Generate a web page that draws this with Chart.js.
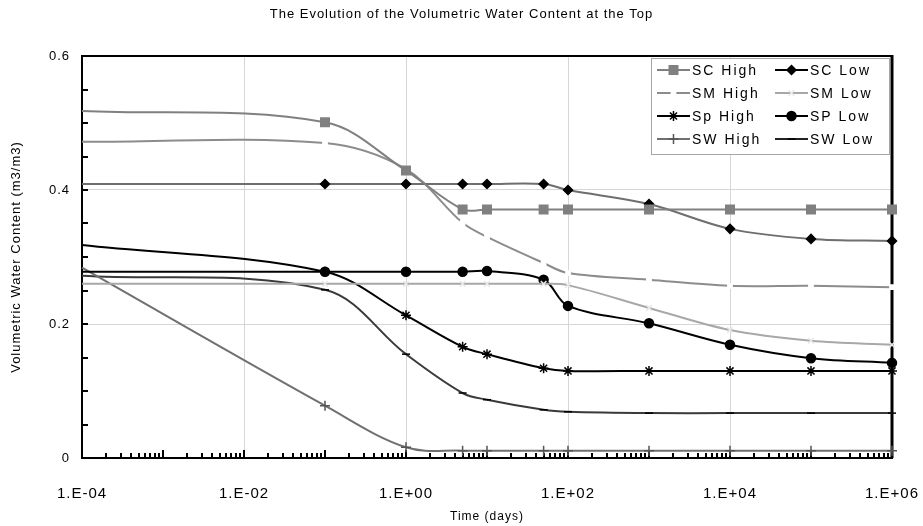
<!DOCTYPE html>
<html>
<head>
<meta charset="utf-8">
<script src="https://cdn.jsdelivr.net/npm/chart.js@4/dist/chart.umd.min.js"></script>
<style>
  html, body { margin: 0; padding: 0; background: #fff; }
  #wrap { width: 923px; height: 526px; }
</style>
</head>
<body>
<div id="wrap"><canvas id="waterChart" width="923" height="526"></canvas></div>
<script>
// time steps (days) and volumetric water content at the top for each soil
const days = [1e-4, 0.1, 1, 5, 10, 50, 100, 1000, 1e4, 1e5, 1e6];
const xTickDecades = [1e-4, 1e-2, 1, 1e2, 1e4, 1e6];
const yTicks = [0, 0.2, 0.4, 0.6];

const scHigh = [0.518, 0.501, 0.429, 0.371, 0.371, 0.371, 0.371, 0.371, 0.371, 0.371, 0.371];
const scLow  = [0.409, 0.409, 0.409, 0.409, 0.409, 0.409, 0.400, 0.379, 0.342, 0.327, 0.324];
const smHigh = [0.472, 0.470, 0.431, 0.351, 0.330, 0.291, 0.276, 0.266, 0.257, 0.257, 0.255];
const smLow  = [0.260, 0.260, 0.260, 0.260, 0.260, 0.260, 0.258, 0.224, 0.191, 0.175, 0.169];
const spHigh = [0.318, 0.278, 0.213, 0.166, 0.155, 0.134, 0.130, 0.130, 0.130, 0.130, 0.130];
const spLow  = [0.278, 0.278, 0.278, 0.278, 0.279, 0.266, 0.227, 0.201, 0.169, 0.149, 0.142];
const swHigh = [0.284, 0.078, 0.016, 0.011, 0.011, 0.011, 0.011, 0.011, 0.011, 0.011, 0.011];
const swLow  = [0.272, 0.251, 0.155, 0.097, 0.087, 0.072, 0.069, 0.067, 0.067, 0.067, 0.067];

const seriesNames = ['SC High', 'SC Low', 'SM High', 'SM Low', 'Sp High', 'SP Low', 'SW High', 'SW Low'];
const seriesValues = [scHigh, scLow, smHigh, smLow, spHigh, spLow, swHigh, swLow];

// line + marker look for each series, same order as the names
const seriesStyles = [
  { line: '#808080', key: '#808080', style: 'rect',     r: 6,   fill: '#808080', edge: '#808080' },
  { line: '#6e6e6e', key: '#000',    style: 'rectRot',  r: 4.5, fill: '#000',    edge: '#000' },
  { line: '#8c8c8c', key: '#8c8c8c', style: 'rect',     r: 3,   fill: '#fff',    edge: '#fff' },
  { line: '#a8a8a8', key: '#a8a8a8', style: 'crossRot', r: 4,   fill: '#e8e8e8', edge: '#e8e8e8' },
  { line: '#000',    key: '#000',    style: 'star',     r: 5,   fill: '#000',    edge: '#000' },
  { line: '#000',    key: '#000',    style: 'circle',   r: 4.5, fill: '#000',    edge: '#000' },
  { line: '#707070', key: '#707070', style: 'cross',    r: 5,   fill: '#555',    edge: '#555' },
  { line: '#3a3a3a', key: '#222',    style: 'line',     r: 4,   fill: '#000',    edge: '#000' }
];

const datasets = seriesNames.map((name, s) => {
  const st = seriesStyles[s];
  return {
    label: name,
    data: days.map((d, i) => ({ x: d, y: seriesValues[s][i] })),
    borderColor: st.line,
    borderWidth: 2,
    backgroundColor: st.fill,
    pointStyle: st.style,
    pointRadius: ctx => ctx.dataIndex === 0 ? 0 : st.r,
    pointBackgroundColor: st.fill,
    pointBorderColor: st.edge,
    pointBorderWidth: 1.5,
    tension: 0.35,
    clip: false
  };
});

Chart.defaults.font.family = '"Liberation Sans", Arial, sans-serif';
Chart.defaults.color = '#000';

// spaced-out lettering used across the whole chart
const spacing = {
  id: 'spacing',
  beforeLayout(chart) { chart.ctx.letterSpacing = '1px'; },
  beforeDraw(chart) { chart.ctx.letterSpacing = '1px'; }
};

// plot frame and the small inward tick marks on both axes
const frameTicks = {
  id: 'frameTicks',
  beforeDatasetsDraw(chart) {
    const { ctx, chartArea: a, scales } = chart;
    ctx.save();
    ctx.strokeStyle = '#000';
    ctx.lineWidth = 2;
    ctx.beginPath();
    ctx.moveTo(a.left, a.top);
    ctx.lineTo(a.right, a.top);
    ctx.stroke();
    ctx.lineWidth = 3;
    ctx.beginPath();
    ctx.moveTo(a.right, a.top - 1);
    ctx.lineTo(a.right, a.bottom);
    ctx.stroke();

    ctx.lineWidth = 2;
    ctx.beginPath();
    for (let v = 0.05; v < 0.6; v += 0.05) {
      const y = Math.round(scales.y.getPixelForValue(v));
      ctx.moveTo(a.left, y);
      ctx.lineTo(a.left + 6, y);
    }
    for (let n = -4; n < 6; n++) {
      for (let k = 1; k <= 9; k++) {
        if (n === -4 && k === 1) continue;
        const x = Math.round(scales.x.getPixelForValue(k * Math.pow(10, n)));
        ctx.moveTo(x, a.bottom);
        ctx.lineTo(x, a.bottom - (k === 1 ? 8 : 5));
      }
    }
    ctx.stroke();
    ctx.restore();
  }
};

// boxed two-column legend in the upper right corner of the plot
const boxLegend = {
  id: 'boxLegend',
  afterDatasetsDraw(chart) {
    const ctx = chart.ctx;
    const box = { left: 651, top: 58, right: 889, bottom: 154 };
    const rowY = [70, 93, 116, 139];
    const colX = [657, 775];
    ctx.save();
    ctx.fillStyle = '#fff';
    ctx.fillRect(box.left, box.top, box.right - box.left, box.bottom - box.top);
    ctx.strokeStyle = '#a6a6a6';
    ctx.lineWidth = 1;
    ctx.strokeRect(box.left + 0.5, box.top + 0.5, box.right - box.left, box.bottom - box.top);

    chart.data.datasets.forEach((ds, i) => {
      const x0 = colX[i % 2];
      const y = rowY[Math.floor(i / 2)];
      ctx.strokeStyle = seriesStyles[i].key;
      ctx.lineWidth = ds.borderWidth;
      ctx.beginPath();
      ctx.moveTo(x0, y);
      ctx.lineTo(x0 + 33, y);
      ctx.stroke();

      ctx.fillStyle = ds.pointBackgroundColor;
      ctx.strokeStyle = ds.pointBorderColor;
      ctx.lineWidth = ds.pointBorderWidth;
      Chart.helpers.drawPoint(ctx, {
        pointStyle: ds.pointStyle,
        radius: seriesStyles[i].r,
        borderWidth: ds.pointBorderWidth,
        rotation: 0
      }, x0 + 16.5, y);

      ctx.fillStyle = '#000';
      ctx.font = '14px "Liberation Sans", Arial, sans-serif';
      ctx.letterSpacing = '2px';
      ctx.textBaseline = 'middle';
      ctx.textAlign = 'left';
      ctx.fillText(ds.label, x0 + 35, y + 1);
    });
    ctx.restore();
  }
};

function decadeLabel(v) {
  const e = Math.round(Math.log10(v));
  const sign = e < 0 ? '-' : '+';
  return '1.E' + sign + String(Math.abs(e)).padStart(2, '0');
}

new Chart(document.getElementById('waterChart'), {
  type: 'line',
  data: { datasets },
  plugins: [spacing, frameTicks, boxLegend],
  options: {
    responsive: false,
    animation: false,
    layout: { padding: 0 },
    plugins: {
      legend: { display: false },
      tooltip: { enabled: false },
      title: {
        display: true,
        text: 'The Evolution of the Volumetric Water Content at the Top',
        font: { size: 13, weight: 'normal' },
        color: '#000',
        padding: { top: 7, bottom: 33.4 }
      }
    },
    scales: {
      x: {
        type: 'logarithmic',
        min: 1e-4,
        max: 1e6,
        afterBuildTicks(scale) {
          scale.ticks = xTickDecades.map(v => ({ value: v }));
        },
        afterFit(scale) {
          scale.height = 68;
          scale.paddingLeft = 0;
          scale.paddingRight = 31;
        },
        ticks: {
          autoSkip: false,
          maxRotation: 0,
          padding: 27,
          font: { size: 15 },
          callback: v => decadeLabel(v)
        },
        grid: {
          drawTicks: false,
          lineWidth: 1,
          color: ctx => (ctx.tick && (ctx.tick.value === 1e-4 || ctx.tick.value === 1e6)) ? 'rgba(0,0,0,0)' : '#d6d6d6'
        },
        border: { color: '#000', width: 2 },
        title: {
          display: true,
          text: 'Time (days)',
          font: { size: 12 },
          padding: { top: 0, bottom: 2 }
        }
      },
      y: {
        min: 0,
        max: 0.6,
        afterBuildTicks(scale) {
          scale.ticks = yTicks.map(v => ({ value: v }));
        },
        afterFit(scale) {
          scale.width = 82;
          scale.paddingTop = 0;
          scale.paddingBottom = 0;
        },
        ticks: {
          padding: 12,
          font: { size: 13 },
          callback: v => v === 0 ? '0' : v.toFixed(1)
        },
        grid: {
          drawTicks: false,
          lineWidth: 1,
          color: ctx => (ctx.tick && (ctx.tick.value === 0 || ctx.tick.value === 0.6)) ? 'rgba(0,0,0,0)' : '#d6d6d6'
        },
        border: { color: '#000', width: 2 },
        title: {
          display: true,
          text: 'Volumetric Water Content (m3/m3)',
          font: { size: 13 },
          padding: { top: 9, bottom: 0 }
        }
      }
    }
  }
});
</script>
</body>
</html>
